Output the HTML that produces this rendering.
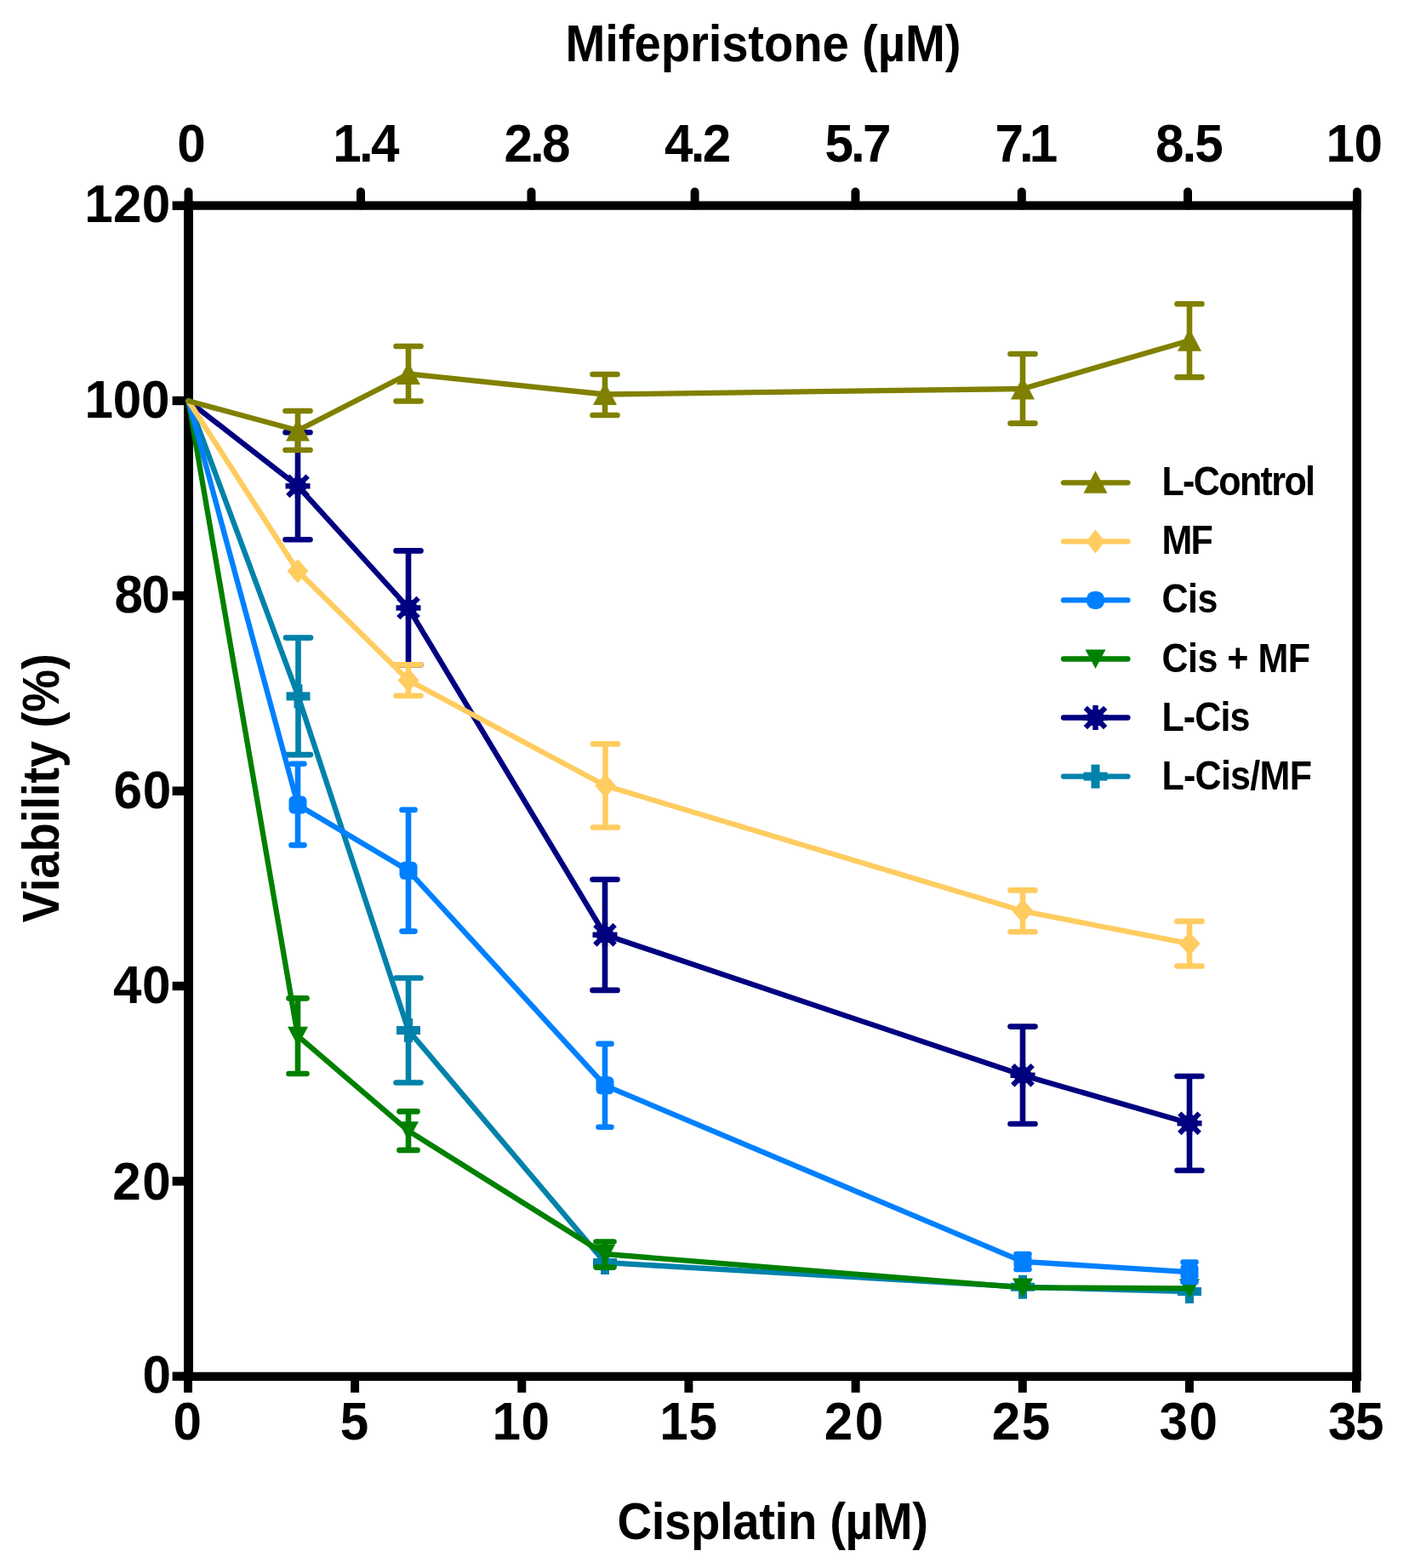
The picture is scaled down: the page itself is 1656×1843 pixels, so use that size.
<!DOCTYPE html><html><head><meta charset="utf-8"><title>Viability chart</title><style>html,body{margin:0;padding:0;background:#fff;}body{width:1656px;height:1843px;overflow:hidden;}svg{display:block} text{font-family:'Liberation Sans',Arial,Helvetica,sans-serif;font-weight:bold}</style></head><body>
<svg width="1656" height="1843" viewBox="0 0 1656 1843">
<rect width="1656" height="1843" fill="#fff"/>
<g stroke="#000" fill="none">
<path d="M221.5,236.6 V1623.1000000000001" stroke-width="11"/>
<path d="M216.0,1617.9 H1599.6" stroke-width="10.4"/>
<path d="M216.0,241.6 H1599.6" stroke-width="10.4"/>
<path d="M1594.6,236.6 V1623.1000000000001" stroke-width="10.4"/>
<path d="M202.6,1617.7 H221.5" stroke-width="10.4"/>
<path d="M202.6,1388.4 H221.5" stroke-width="10.4"/>
<path d="M202.6,1159.0 H221.5" stroke-width="10.4"/>
<path d="M202.6,929.7 H221.5" stroke-width="10.4"/>
<path d="M202.6,700.3 H221.5" stroke-width="10.4"/>
<path d="M202.6,471.0 H221.5" stroke-width="10.4"/>
<path d="M202.6,241.7 H221.5" stroke-width="10.4"/>
<path d="M221.0,1617.9 V1636.8" stroke-width="10"/>
<path d="M417.1,1617.9 V1636.8" stroke-width="10"/>
<path d="M613.3,1617.9 V1636.8" stroke-width="10"/>
<path d="M809.4,1617.9 V1636.8" stroke-width="10"/>
<path d="M1005.6,1617.9 V1636.8" stroke-width="10"/>
<path d="M1201.8,1617.9 V1636.8" stroke-width="10"/>
<path d="M1397.9,1617.9 V1636.8" stroke-width="10"/>
<path d="M1594.0,1617.9 V1636.8" stroke-width="10"/>
<path d="M221.5,241.6 V225.5" stroke-width="10" stroke-linecap="round"/>
<path d="M424,241.6 V225.5" stroke-width="10" stroke-linecap="round"/>
<path d="M624.5,241.6 V225.5" stroke-width="10" stroke-linecap="round"/>
<path d="M816.6,241.6 V225.5" stroke-width="10" stroke-linecap="round"/>
<path d="M1005.4,241.6 V225.5" stroke-width="10" stroke-linecap="round"/>
<path d="M1200.8,241.6 V225.5" stroke-width="10" stroke-linecap="round"/>
<path d="M1396,241.6 V225.5" stroke-width="10" stroke-linecap="round"/>
<path d="M1595,241.6 V225.5" stroke-width="10" stroke-linecap="round"/>
</g>
<g><path d="M221.5,471.3 L350.5,818.4 L480,1211 L711,1484 L1202,1512.7 L1398,1518" fill="none" stroke="#0082aa" stroke-width="6.3" stroke-linejoin="round" stroke-linecap="round"/><path d="M350.5,749.6 V887.1 M336.0,749.6 H365.0 M336.0,887.1 H365.0" fill="none" stroke="#0082aa" stroke-width="6.6" stroke-linecap="round"/><path d="M480,1149.5 V1272.5 M465.5,1149.5 H494.5 M465.5,1272.5 H494.5" fill="none" stroke="#0082aa" stroke-width="6.6" stroke-linecap="round"/><rect x="336.5" y="813.4" width="28" height="10" fill="#0082aa"/><rect x="345.5" y="804.4" width="10" height="28" fill="#0082aa"/><rect x="466" y="1206" width="28" height="10" fill="#0082aa"/><rect x="475" y="1197" width="10" height="28" fill="#0082aa"/><rect x="697" y="1479" width="28" height="10" fill="#0082aa"/><rect x="706" y="1470" width="10" height="28" fill="#0082aa"/><rect x="1188" y="1507.7" width="28" height="10" fill="#0082aa"/><rect x="1197" y="1498.7" width="10" height="28" fill="#0082aa"/><rect x="1384" y="1513" width="28" height="10" fill="#0082aa"/><rect x="1393" y="1504" width="10" height="28" fill="#0082aa"/></g>
<g><path d="M221.5,471.3 L350,571.3 L480,714.5 L711,1098.8 L1202,1263.8 L1398,1320.3" fill="none" stroke="#000080" stroke-width="6.3" stroke-linejoin="round" stroke-linecap="round"/><path d="M350,508.3 V634.3 M335.5,508.3 H364.5 M335.5,634.3 H364.5" fill="none" stroke="#000080" stroke-width="6.6" stroke-linecap="round"/><path d="M480,647.4 V781.5 M465.5,647.4 H494.5 M465.5,781.5 H494.5" fill="none" stroke="#000080" stroke-width="6.6" stroke-linecap="round"/><path d="M711,1033.7 V1163.9 M696.5,1033.7 H725.5 M696.5,1163.9 H725.5" fill="none" stroke="#000080" stroke-width="6.6" stroke-linecap="round"/><path d="M1202,1206.6 V1321 M1187.5,1206.6 H1216.5 M1187.5,1321 H1216.5" fill="none" stroke="#000080" stroke-width="6.6" stroke-linecap="round"/><path d="M1398,1265 V1375.7 M1383.5,1265 H1412.5 M1383.5,1375.7 H1412.5" fill="none" stroke="#000080" stroke-width="6.6" stroke-linecap="round"/><rect x="335.5" y="568.0999999999999" width="29.0" height="6.4" fill="#000080" transform="rotate(0 350 571.3)"/><rect x="335.5" y="568.0999999999999" width="29.0" height="6.4" fill="#000080" transform="rotate(90 350 571.3)"/><rect x="333.5" y="568.1999999999999" width="33.0" height="6.2" fill="#000080" transform="rotate(45 350 571.3)"/><rect x="333.5" y="568.1999999999999" width="33.0" height="6.2" fill="#000080" transform="rotate(135 350 571.3)"/><circle cx="350" cy="571.3" r="10.3" fill="#000080"/><rect x="465.5" y="711.3" width="29.0" height="6.4" fill="#000080" transform="rotate(0 480 714.5)"/><rect x="465.5" y="711.3" width="29.0" height="6.4" fill="#000080" transform="rotate(90 480 714.5)"/><rect x="463.5" y="711.4" width="33.0" height="6.2" fill="#000080" transform="rotate(45 480 714.5)"/><rect x="463.5" y="711.4" width="33.0" height="6.2" fill="#000080" transform="rotate(135 480 714.5)"/><circle cx="480" cy="714.5" r="10.3" fill="#000080"/><rect x="696.5" y="1095.6" width="29.0" height="6.4" fill="#000080" transform="rotate(0 711 1098.8)"/><rect x="696.5" y="1095.6" width="29.0" height="6.4" fill="#000080" transform="rotate(90 711 1098.8)"/><rect x="694.5" y="1095.7" width="33.0" height="6.2" fill="#000080" transform="rotate(45 711 1098.8)"/><rect x="694.5" y="1095.7" width="33.0" height="6.2" fill="#000080" transform="rotate(135 711 1098.8)"/><circle cx="711" cy="1098.8" r="10.3" fill="#000080"/><rect x="1187.5" y="1260.6" width="29.0" height="6.4" fill="#000080" transform="rotate(0 1202 1263.8)"/><rect x="1187.5" y="1260.6" width="29.0" height="6.4" fill="#000080" transform="rotate(90 1202 1263.8)"/><rect x="1185.5" y="1260.7" width="33.0" height="6.2" fill="#000080" transform="rotate(45 1202 1263.8)"/><rect x="1185.5" y="1260.7" width="33.0" height="6.2" fill="#000080" transform="rotate(135 1202 1263.8)"/><circle cx="1202" cy="1263.8" r="10.3" fill="#000080"/><rect x="1383.5" y="1317.1" width="29.0" height="6.4" fill="#000080" transform="rotate(0 1398 1320.3)"/><rect x="1383.5" y="1317.1" width="29.0" height="6.4" fill="#000080" transform="rotate(90 1398 1320.3)"/><rect x="1381.5" y="1317.2" width="33.0" height="6.2" fill="#000080" transform="rotate(45 1398 1320.3)"/><rect x="1381.5" y="1317.2" width="33.0" height="6.2" fill="#000080" transform="rotate(135 1398 1320.3)"/><circle cx="1398" cy="1320.3" r="10.3" fill="#000080"/></g>
<g><path d="M221.5,471.3 L350,1217.7 L480,1329.2 L711,1474 L1202,1513.4 L1398,1514.3" fill="none" stroke="#008000" stroke-width="6.3" stroke-linejoin="round" stroke-linecap="round"/><path d="M350,1173.4 V1262 M339.5,1173.4 H360.5 M339.5,1262 H360.5" fill="none" stroke="#008000" stroke-width="6.6" stroke-linecap="round"/><path d="M480,1306.4 V1351.9 M469.5,1306.4 H490.5 M469.5,1351.9 H490.5" fill="none" stroke="#008000" stroke-width="6.6" stroke-linecap="round"/><path d="M711,1459.5 V1489.6 M700.5,1459.5 H721.5 M700.5,1489.6 H721.5" fill="none" stroke="#008000" stroke-width="6.6" stroke-linecap="round"/><polygon points="338,1206.7 362,1206.7 350,1229.2" fill="#008000"/><polygon points="468,1318.2 492,1318.2 480,1340.7" fill="#008000"/><polygon points="699,1463 723,1463 711,1485.5" fill="#008000"/><polygon points="1190,1502.4 1214,1502.4 1202,1524.9" fill="#008000"/><polygon points="1386,1503.3 1410,1503.3 1398,1525.8" fill="#008000"/></g>
<g><path d="M221.5,471.3 L350,946 L480,1023.3 L711,1275.8 L1202,1482.8 L1398,1495.2" fill="none" stroke="#0080ff" stroke-width="6.3" stroke-linejoin="round" stroke-linecap="round"/><path d="M350,897.7 V993.4 M342.5,897.7 H357.5 M342.5,993.4 H357.5" fill="none" stroke="#0080ff" stroke-width="6.6" stroke-linecap="round"/><path d="M480,951.9 V1094.6 M472.5,951.9 H487.5 M472.5,1094.6 H487.5" fill="none" stroke="#0080ff" stroke-width="6.6" stroke-linecap="round"/><path d="M711,1226.9 V1324.7 M703.5,1226.9 H718.5 M703.5,1324.7 H718.5" fill="none" stroke="#0080ff" stroke-width="6.6" stroke-linecap="round"/><path d="M1202,1474 V1492 M1194.5,1474 H1209.5 M1194.5,1492 H1209.5" fill="none" stroke="#0080ff" stroke-width="6.6" stroke-linecap="round"/><path d="M1398,1483.5 V1507 M1390.5,1483.5 H1405.5 M1390.5,1507 H1405.5" fill="none" stroke="#0080ff" stroke-width="6.6" stroke-linecap="round"/><rect x="339.5" y="935.5" width="21" height="21" rx="5.5" fill="#0080ff"/><rect x="469.5" y="1012.8" width="21" height="21" rx="5.5" fill="#0080ff"/><rect x="700.5" y="1265.3" width="21" height="21" rx="5.5" fill="#0080ff"/><rect x="1191.5" y="1472.3" width="21" height="21" rx="5.5" fill="#0080ff"/><rect x="1387.5" y="1484.7" width="21" height="21" rx="5.5" fill="#0080ff"/></g>
<g><path d="M221.5,471.3 L350,671.3 L480,799.5 L711.5,923.5 L1202,1070.8 L1398,1109.2" fill="none" stroke="#ffcc60" stroke-width="6.3" stroke-linejoin="round" stroke-linecap="round"/><path d="M480,781.4 V817.7 M465.5,781.4 H494.5 M465.5,817.7 H494.5" fill="none" stroke="#ffcc60" stroke-width="6.6" stroke-linecap="round"/><path d="M711.5,874.4 V972.5 M697.0,874.4 H726.0 M697.0,972.5 H726.0" fill="none" stroke="#ffcc60" stroke-width="6.6" stroke-linecap="round"/><path d="M1202,1046.4 V1095.3 M1187.5,1046.4 H1216.5 M1187.5,1095.3 H1216.5" fill="none" stroke="#ffcc60" stroke-width="6.6" stroke-linecap="round"/><path d="M1398,1082.9 V1135.5 M1383.5,1082.9 H1412.5 M1383.5,1135.5 H1412.5" fill="none" stroke="#ffcc60" stroke-width="6.6" stroke-linecap="round"/><polygon points="350,657.3 362.5,671.3 350,685.3 337.5,671.3" fill="#ffcc60"/><polygon points="480,785.5 492.5,799.5 480,813.5 467.5,799.5" fill="#ffcc60"/><polygon points="711.5,909.5 724.0,923.5 711.5,937.5 699.0,923.5" fill="#ffcc60"/><polygon points="1202,1056.8 1214.5,1070.8 1202,1084.8 1189.5,1070.8" fill="#ffcc60"/><polygon points="1398,1095.2 1410.5,1109.2 1398,1123.2 1385.5,1109.2" fill="#ffcc60"/></g>
<g><path d="M221.5,471.3 L350,506 L480,439.5 L711,463.5 L1202,457 L1398,400.3" fill="none" stroke="#808000" stroke-width="6.3" stroke-linejoin="round" stroke-linecap="round"/><path d="M350,483 V529 M335.5,483 H364.5 M335.5,529 H364.5" fill="none" stroke="#808000" stroke-width="6.6" stroke-linecap="round"/><path d="M480,407 V471.5 M465.5,407 H494.5 M465.5,471.5 H494.5" fill="none" stroke="#808000" stroke-width="6.6" stroke-linecap="round"/><path d="M711,440 V488 M696.5,440 H725.5 M696.5,488 H725.5" fill="none" stroke="#808000" stroke-width="6.6" stroke-linecap="round"/><path d="M1202,416 V497.6 M1187.5,416 H1216.5 M1187.5,497.6 H1216.5" fill="none" stroke="#808000" stroke-width="6.6" stroke-linecap="round"/><path d="M1398,357.2 V443.4 M1383.5,357.2 H1412.5 M1383.5,443.4 H1412.5" fill="none" stroke="#808000" stroke-width="6.6" stroke-linecap="round"/><polygon points="350,492 364,518.5 336,518.5" fill="#808000"/><polygon points="480,425.5 494,452.0 466,452.0" fill="#808000"/><polygon points="711,449.5 725,476.0 697,476.0" fill="#808000"/><polygon points="1202,443 1216,469.5 1188,469.5" fill="#808000"/><polygon points="1398,386.3 1412,412.8 1384,412.8" fill="#808000"/></g>
<text transform="translate(200.4,1637.3) scale(0.965,1.0)" font-size="62.4" text-anchor="end" letter-spacing="-0.5" fill="#000" >0</text>
<text transform="translate(202.2,1409.9) scale(0.965,1.0)" font-size="62.4" text-anchor="end" letter-spacing="1.5" fill="#000" >20</text>
<text transform="translate(200.9,1179.3) scale(0.965,1.0)" font-size="62.4" text-anchor="end" letter-spacing="0.5" fill="#000" >40</text>
<text transform="translate(201.7,949.8) scale(0.965,1.0)" font-size="62.4" text-anchor="end" letter-spacing="0.6" fill="#000" >60</text>
<text transform="translate(198.3,719.9) scale(0.965,1.0)" font-size="62.4" text-anchor="end" letter-spacing="-1.6" fill="#000" >80</text>
<text transform="translate(199.4,490.6) scale(0.965,1.0)" font-size="62.4" text-anchor="end" letter-spacing="-0.2" fill="#000" >100</text>
<text transform="translate(200.6,261.0) scale(0.965,1.0)" font-size="62.4" text-anchor="end" letter-spacing="0.3" fill="#000" >120</text>
<text transform="translate(219.7,1691.6) scale(0.965,1.0)" font-size="62.4" text-anchor="middle" letter-spacing="-1.0" fill="#000" >0</text>
<text transform="translate(416.1,1691.6) scale(0.965,1.0)" font-size="62.4" text-anchor="middle" letter-spacing="-1.0" fill="#000" >5</text>
<text transform="translate(612.5,1691.6) scale(0.965,1.0)" font-size="62.4" text-anchor="middle" letter-spacing="0.6" fill="#000" >10</text>
<text transform="translate(809.4,1691.6) scale(0.965,1.0)" font-size="62.4" text-anchor="middle" letter-spacing="0.6" fill="#000" >15</text>
<text transform="translate(1004.7,1691.6) scale(0.965,1.0)" font-size="62.4" text-anchor="middle" letter-spacing="2.6" fill="#000" >20</text>
<text transform="translate(1200.8,1691.6) scale(0.965,1.0)" font-size="62.4" text-anchor="middle" letter-spacing="1.6" fill="#000" >25</text>
<text transform="translate(1397.6,1691.6) scale(0.965,1.0)" font-size="62.4" text-anchor="middle" letter-spacing="1.6" fill="#000" >30</text>
<text transform="translate(1593.0,1691.6) scale(0.965,1.0)" font-size="62.4" text-anchor="middle" letter-spacing="-1.6" fill="#000" >35</text>
<text transform="translate(225.0,189.9) scale(0.965,1.0)" font-size="62.4" text-anchor="middle" letter-spacing="0" fill="#000" >0</text>
<text transform="translate(429,189.9) scale(0.965,1.0)" font-size="62.4" text-anchor="middle" letter-spacing="-2.8" fill="#000" >1.4</text>
<text transform="translate(630.0,189.9) scale(0.965,1.0)" font-size="62.4" text-anchor="middle" letter-spacing="-3.0" fill="#000" >2.8</text>
<text transform="translate(818.8,189.9) scale(0.965,1.0)" font-size="62.4" text-anchor="middle" letter-spacing="-2.8" fill="#000" >4.2</text>
<text transform="translate(1007.0,189.9) scale(0.965,1.0)" font-size="62.4" text-anchor="middle" letter-spacing="-3.0" fill="#000" >5.7</text>
<text transform="translate(1203.8,189.9) scale(0.965,1.0)" font-size="62.4" text-anchor="middle" letter-spacing="-5.25" fill="#000" >7.1</text>
<text transform="translate(1396.9,189.9) scale(0.965,1.0)" font-size="62.4" text-anchor="middle" letter-spacing="-2.0" fill="#000" >8.5</text>
<text transform="translate(1591.5,189.9) scale(0.965,1.0)" font-size="62.4" text-anchor="middle" letter-spacing="-0.4" fill="#000" >10</text>
<text transform="translate(897.0,71.9) scale(0.93,1.02)" font-size="60.5" text-anchor="middle" letter-spacing="-0.13" fill="#000" >Mifepristone (µM)</text>
<text transform="translate(908.0,1808.6) scale(0.93,1.0)" font-size="60.5" text-anchor="middle" letter-spacing="-0.36" fill="#000" >Cisplatin (µM)</text>
<text transform="translate(68.6,926.5) rotate(-90) scale(0.93,1)" font-size="60.5" text-anchor="middle" letter-spacing="-0.13" fill="#000">Viability (%)</text>
<path d="M1250,567.3 H1325.5" stroke="#808000" stroke-width="6.3" stroke-linecap="round"/>
<polygon points="1287.5,553.3 1301.5,579.8 1273.5,579.8" fill="#808000"/>
<text transform="translate(1365.4,582.3) scale(0.93,1.04)" font-size="46.3" text-anchor="start" letter-spacing="-1.74" fill="#000" >L-Control</text>
<path d="M1250,636.4 H1325.5" stroke="#ffcc60" stroke-width="6.3" stroke-linecap="round"/>
<polygon points="1287.5,622.4 1298.5,636.4 1287.5,650.4 1276.5,636.4" fill="#ffcc60"/>
<text transform="translate(1365.4,651.4) scale(0.93,1.04)" font-size="46.3" text-anchor="start" letter-spacing="-1.8" fill="#000" >MF</text>
<path d="M1250,705.4 H1325.5" stroke="#0080ff" stroke-width="6.3" stroke-linecap="round"/>
<rect x="1277.0" y="694.9" width="21" height="21" rx="9" fill="#0080ff"/>
<text transform="translate(1365.4,720.4) scale(0.93,1.04)" font-size="46.3" text-anchor="start" letter-spacing="-0.45" fill="#000" >Cis</text>
<path d="M1250,774.5 H1325.5" stroke="#008000" stroke-width="6.3" stroke-linecap="round"/>
<polygon points="1275.5,763.5 1299.5,763.5 1287.5,786.0" fill="#008000"/>
<text transform="translate(1365.4,789.5) scale(0.93,1.04)" font-size="46.3" text-anchor="start" letter-spacing="-0.54" fill="#000" >Cis + MF</text>
<path d="M1250,843.5 H1325.5" stroke="#000080" stroke-width="6.3" stroke-linecap="round"/>
<rect x="1273.0" y="840.3" width="29.0" height="6.4" fill="#000080" transform="rotate(0 1287.5 843.5)"/><rect x="1273.0" y="840.3" width="29.0" height="6.4" fill="#000080" transform="rotate(90 1287.5 843.5)"/><rect x="1271.0" y="840.4" width="33.0" height="6.2" fill="#000080" transform="rotate(45 1287.5 843.5)"/><rect x="1271.0" y="840.4" width="33.0" height="6.2" fill="#000080" transform="rotate(135 1287.5 843.5)"/><circle cx="1287.5" cy="843.5" r="10.3" fill="#000080"/>
<text transform="translate(1365.4,858.5) scale(0.93,1.04)" font-size="46.3" text-anchor="start" letter-spacing="-0.95" fill="#000" >L-Cis</text>
<path d="M1250,912.6 H1325.5" stroke="#0082aa" stroke-width="6.3" stroke-linecap="round"/>
<rect x="1273.5" y="907.6" width="28" height="10" fill="#0082aa"/><rect x="1282.5" y="898.6" width="10" height="28" fill="#0082aa"/>
<text transform="translate(1365.4,927.6) scale(0.93,1.04)" font-size="46.3" text-anchor="start" letter-spacing="-0.79" fill="#000" >L-Cis/MF</text>
</svg></body></html>
